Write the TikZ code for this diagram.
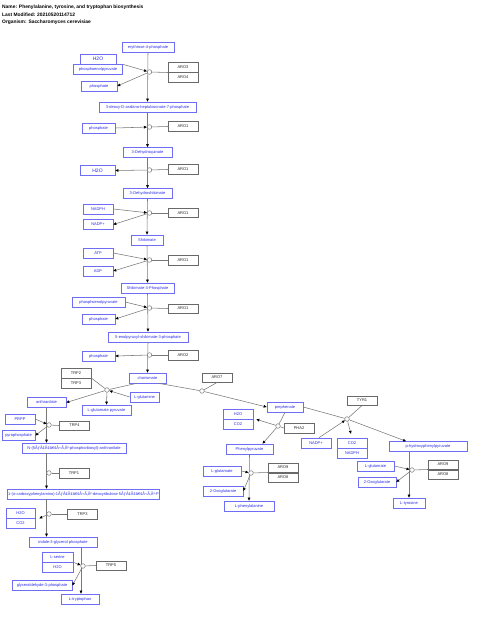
\documentclass[tikz,border=0pt]{standalone}
\usepackage{fontspec}
\setmainfont{Liberation Sans}
\usepackage{tikz}
\usetikzlibrary{shapes, arrows.meta, positioning, calc}
\definecolor{metblue}{RGB}{40,40,235}
\definecolor{metedge}{RGB}{110,110,245}
\definecolor{geneedge}{RGB}{105,105,105}
\definecolor{lngray}{RGB}{120,120,120}

\begin{document}
\begin{tikzpicture}[x=1pt, y=-1pt, node distance=0pt,
	met/.style={draw=metedge, line width=0.6pt, text=metblue, font=\fontsize{4}{4}\selectfont, minimum height=10pt, inner sep=0.5pt},
	big/.style={font=\fontsize{5}{5}\selectfont},
	gene/.style={draw=geneedge, line width=0.5pt, text=black!85, font=\fontsize{4}{4}\selectfont, minimum width=30pt, minimum height=9.5pt, inner sep=0.5pt},
	rxn/.style={circle, draw=lngray, fill=white, line width=0.5pt, inner sep=0pt, minimum size=4.6pt},
	ln/.style={draw=lngray, line width=0.55pt},
	arr/.style={ln, -{Triangle[length=3pt, width=2.6pt, black]}},
	ttl/.style={anchor=west, font=\bfseries\fontsize{4.9}{5}\selectfont, inner sep=0pt}]
	\useasboundingbox (0,0) rectangle (480,617);
	\node[ttl] (name) at (2,7.5) {Name: Phenylalanine, tyrosine, and tryptophan biosynthesis};
	\node[ttl] (mod) at (2,15) {Last Modified: 20210520114712};
	\node[ttl] (org) at (2,22.5) {Organism: Saccharomyces cerevisiae};

	\node[met, minimum width=52pt] (e4p) at (148,47) {erythrose-4-phosphate};
	\node[met, big, minimum width=36pt] (h2oa) at (98,59) {H2O};
	\node[met, minimum width=49pt, below =of h2oa] (pepa) {phosphoenolpyruvate};
	\node[met, minimum width=36pt] (phoa) at (99,86) {phosphate};
	\node[gene] (aro3) at (183,67.5) {ARO3};
		\node[gene, below =of aro3] (aro4) {ARO4};
	\node[met, minimum width=97pt] (dahp) at (147.5,107) {3-deoxy-D-arabino-heptulosonate-7-phosphate};
	\node[met, minimum width=33pt] (phob) at (98.5,128) {phosphate};
	\node[gene] (aro1a) at (183,126.5) {ARO1};
	\node[met, minimum width=49pt] (dhq) at (147.5,152.5) {3-Dehydroquinate};
	\node[met, big, minimum width=35pt] (h2ob) at (97.5,170.5) {H2O};
	\node[gene] (aro1b) at (183,169.5) {ARO1};
	\node[met, minimum width=49pt] (dhs) at (147.5,193.5) {3-Dehydroshikimate};
	\node[met, minimum width=30pt] (nadpha) at (98,209) {NADPH};
	\node[met, minimum width=30pt] (nadpa) at (98,224.5) {NADP+};
	\node[gene] (aro1c) at (183,213) {ARO1};
	\node[met, minimum width=32pt] (shk) at (147,240) {Shikimate};
	\node[met, minimum width=30pt] (atp) at (98,253) {ATP};
	\node[met, minimum width=30pt] (adp) at (98,271) {ADP};
	\node[gene] (aro1d) at (183,260) {ARO1};
	\node[met, minimum width=53pt] (s3p) at (147.5,288) {Shikimate-3-Phosphate};
	\node[met, minimum width=53pt] (pepb) at (98.5,302) {phosphoenolpyruvate};
	\node[met, minimum width=33pt] (phoc) at (98.5,319) {phosphate};
	\node[gene] (aro1e) at (183,308.5) {ARO1};
	\node[met, minimum width=80pt] (eps) at (148,337) {5-enolpyruvyl-shikimate-3-phosphate};
	\node[met, minimum width=33pt] (phod) at (98.5,356) {phosphate};
	\node[gene] (aro2) at (183,355) {ARO2};
	\node[met, minimum width=37pt] (cho) at (147.5,378) {chorismate};

	\node[gene] (trp2) at (76,373) {TRP2};
		\node[gene, below =of trp2] (trp3a) {TRP3};
	\node[met, minimum width=29pt] (gln) at (144.5,397) {L-glutamine};
	\node[met, minimum width=39pt] (ant) at (46.5,402.5) {anthranilate};
	\node[met, minimum width=49pt] (glp) at (106.5,410) {L-glutamate pyruvate};
	\node[gene] (aro7) at (217,377.5) {ARO7};
	\node[met, minimum width=36pt] (pre) at (285,407) {prephenate};
	\node[met, minimum width=30pt] (h2oc) at (238,414) {H2O};
		\node[met, minimum width=30pt, below =of h2oc] (co2a) {CO2};
	\node[gene] (pha2) at (299,428) {PHA2};
	\node[met, minimum width=47pt] (php) at (249.5,449) {Phenylpyruvate};
	\node[met, minimum width=38pt] (glua) at (222,471) {L-glutamate};
	\node[gene] (aro9a) at (283,467.5) {ARO9};
		\node[gene, below =of aro9a] (aro8a) {ARO8};
	\node[met, minimum width=40pt] (oxoa) at (223,491) {2-Oxoglutarate};
	\node[met, minimum width=50pt] (phe) at (249,506) {L-phenylalanine};
	\node[gene] (tyr1) at (362,400.5) {TYR1};
	\node[met, minimum width=30pt] (nadpb) at (316,443) {NADP+};
	\node[met, minimum width=30pt] (co2b) at (352,443) {CO2};
		\node[met, minimum width=30pt, below =of co2b] (nadphb) {NADPH};
	\node[met, minimum width=78pt] (hpp) at (428,446.5) {p-hydroxyphenylpyruvate};
	\node[met, minimum width=37pt] (glub) at (375.5,466) {L-glutamate};
	\node[gene] (aro9b) at (443,464.5) {ARO9};
		\node[gene, below =of aro9b] (aro8b) {ARO8};
	\node[met, minimum width=38pt] (oxob) at (377,482) {2-Oxoglutarate};
	\node[met, minimum width=32pt] (tyr) at (409,503) {L-tyrosine};

	\node[met, minimum width=30pt] (prpp) at (20,419) {PRPP};
	\node[gene] (trp4) at (74.5,425.5) {TRP4};
	\node[met, minimum width=33pt] (ppi) at (18.5,435.5) {pyrophosphate};
	\node[met, minimum width=104pt] (pra) at (74,448) {N-(5ÃƒÂ¢Ã¢â€šÂ¬Ã‚Â²-phosphoribosyl)-anthranilate};
	\node[gene] (trp1) at (74,473) {TRP1};
	\node[met, minimum width=147pt] (cdrp) at (83.5,494) {1-(o-carboxyphenylamino)-1ÃƒÂ¢Ã¢â€šÂ¬Ã‚Â²-deoxyribulose 5ÃƒÂ¢Ã¢â€šÂ¬Ã‚Â²-P};
	\node[met, minimum width=29pt] (h2od) at (20.5,513) {H2O};
		\node[met, minimum width=29pt, below =of h2od] (co2c) {CO2};
	\node[gene] (trp3b) at (82.5,514) {TRP3};
	\node[met, minimum width=68pt] (igp) at (63,542) {indole-3-glycerol phosphate};
	\node[met, minimum width=31pt] (ser) at (57.5,557) {L-serine};
		\node[met, minimum width=31pt, below =of ser] (h2oe) {H2O};
	\node[gene] (trp5) at (111,565.5) {TRP5};
	\node[met, minimum width=60pt] (g3p) at (42,585.5) {glyceraldehyde-3-phosphate};
	\node[met, minimum width=38pt] (trp) at (80,599) {L-tryptophan};

	\draw[arr] (e4p.south) -- (dahp.north);
	\draw[arr] (dahp.south) -- (dhq.north);
	\draw[arr] (dhq.south) -- (dhs.north);
	\draw[arr] (dhs.south) -- (shk.north);
	\draw[arr] (shk.south) -- (s3p.north);
	\draw[arr] (s3p.south) -- (eps.north);
	\draw[arr] (eps.south) -- (cho.north);
	\draw[arr] (php.south) -- (phe.north);
	\draw[arr] ([xshift=-19pt]hpp.south) -- (tyr.north);
	\draw[arr] (ant.south) -- (ant.south |- pra.north);
	\draw[arr] (ant.south |- pra.south) -- (ant.south |- cdrp.north);
	\draw[arr] (ant.south |- cdrp.south) -- (ant.south |- igp.north);
	\draw[arr] ([xshift=18pt]igp.south) -- ([xshift=1pt]trp.north);

	\node[rxn] (r1) at (149.5,72) {};
	\node[rxn] (r2) at (149.5,127) {};
	\node[rxn] (r3) at (149.5,170) {};
	\node[rxn] (r4) at (149.5,213) {};
	\node[rxn] (r5) at (149.5,260) {};
	\node[rxn] (r6) at (149.5,308) {};
	\node[rxn] (r7) at (149.5,355) {};
	\node[rxn] (r8) at (107,390) {};
	\node[rxn] (r9) at (202,391) {};
	\node[rxn] (r10) at (278,426) {};
	\node[rxn] (r11) at (251,473) {};
	\node[rxn] (r12) at (347,419) {};
	\node[rxn] (r13) at (412,470) {};
	\node[rxn] (r14) at (49,425) {};
	\node[rxn] (r15) at (49,473) {};
	\node[rxn] (r16) at (49,514) {};
	\node[rxn] (r17) at (83,566) {};

	\draw[arr] (pepa.north east) -- (r1);
	\draw[arr] (r1) -- (phoa.east);
	\draw[ln] (r1) -- (aro3.south west);
	\draw[arr] (phob.east) -- (r2);
	\draw[ln] (r2) -- (aro1a.west);
	\draw[arr] (r3) -- (h2ob.east);
	\draw[ln] (r3) -- (aro1b.west);
	\draw[arr] (nadpha.east) -- (r4);
	\draw[arr] (r4) -- (nadpa.east);
	\draw[ln] (r4) -- (aro1c.west);
	\draw[arr] (atp.east) -- (r5);
	\draw[arr] (r5) -- (adp.east);
	\draw[ln] (r5) -- (aro1d.west);
	\draw[arr] (pepb.east) -- (r6);
	\draw[arr] (r6) -- (phoc.east);
	\draw[ln] (r6) -- (aro1e.west);
	\draw[arr] (r7) -- (phod.east);
	\draw[ln] (r7) -- (aro2.west);

	\draw[ln] ([xshift=8pt]cho.south west) -- (r8);
	\draw[arr] (r8) -- (ant.east);
	\draw[ln] (trp2.south east) -- (r8);
	\draw[arr] (gln.west) -- (r8);
	\draw[arr] (r8) -- (glp.north);
	\draw[ln] ([xshift=-8pt]cho.south east) -- (r9);
	\draw[arr] (r9) -- (pre.west);
	\draw[ln] (aro7.south) -- (r9);
	\draw[ln] (pre.south) -- (r10);
	\draw[arr] (r10) -- ([xshift=13pt]php.north);
	\draw[ln] (pha2.west) -- (r10);
	\draw[arr] (r10) -- ([xshift=3pt]h2oc.south east);
	\draw[arr] (glua.east) -- (r11);
	\draw[arr] (r11) -- (oxoa.east);
	\draw[ln] (aro9a.south west) -- (r11);
	\draw[ln] (pre.east) -- (r12);
	\draw[arr] (r12) -- ([xshift=-22pt]hpp.north);
	\draw[ln] (tyr1.south) -- (r12);
	\draw[arr] ([xshift=3pt]nadpb.north) -- (r12);
	\draw[arr, shorten >=4pt] (r12) -- (co2b.north);
	\draw[arr] (glub.east) -- (r13);
	\draw[arr] (r13) -- (oxob.east);
	\draw[ln] (aro9b.south west) -- (r13);

	\draw[arr] (prpp.east) -- (r14);
	\draw[arr] (r14) -- (ppi.east);
	\draw[ln] (trp4.west) -- (r14);
	\draw[ln] (trp1.west) -- (r15);
	\draw[arr] (r16) -- ([xshift=4pt]h2od.south east);
	\draw[ln] (trp3b.west) -- (r16);
	\draw[arr] (ser.south east) -- (r17);
	\draw[arr] (r17) -- (g3p.east);
	\draw[ln] (trp5.west) -- (r17);
\end{tikzpicture}
\end{document}
